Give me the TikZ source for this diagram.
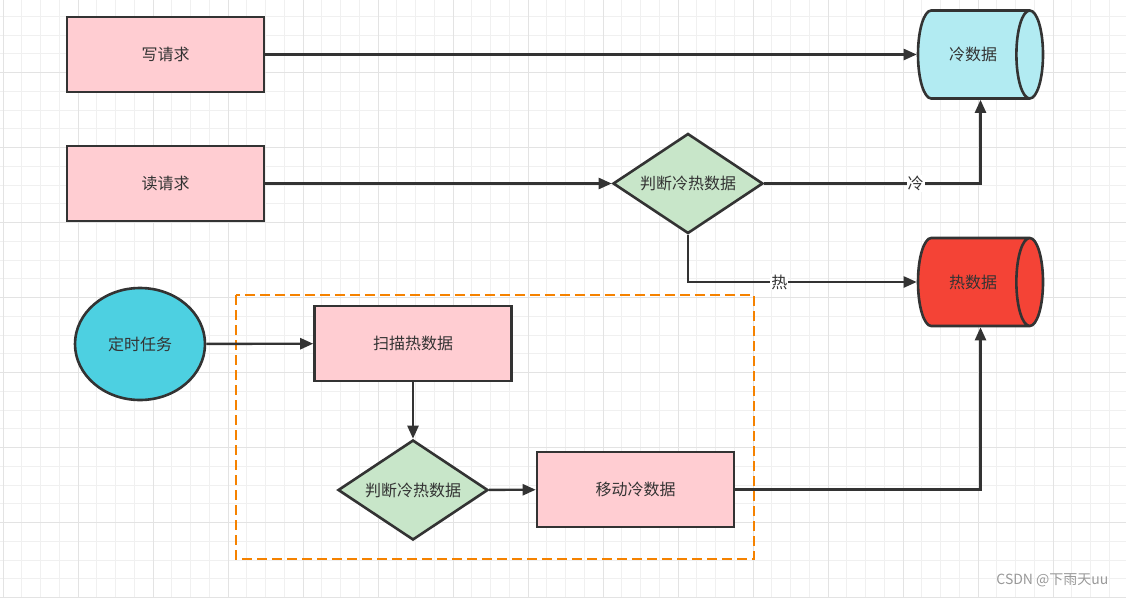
\documentclass[tikz,border=0pt]{standalone}
\usepackage{xcolor}
\usepackage{fontspec}
\newfontfamily\cjk{Noto Sans CJK SC}
\usetikzlibrary{arrows.meta,shapes.geometric}
\definecolor{pinkfill}{HTML}{FFCDD2}
\definecolor{coldfill}{HTML}{B2EBF2}
\definecolor{hotfill}{HTML}{F44336}
\definecolor{judgefill}{HTML}{C8E6C9}
\definecolor{taskfill}{HTML}{4DD0E1}
\definecolor{dashorange}{HTML}{F58200}
\definecolor{linegray}{HTML}{333333}
\definecolor{gridminor}{HTML}{F0F0F0}
\definecolor{gridmajor}{HTML}{E3E3E3}
\tikzset{
	label font/.style={font=\cjk\fontsize{16}{19}\selectfont, text=linegray},
	request/.style={
			draw=linegray, line width=2.6pt, fill=pinkfill, inner sep=0pt,
			minimum width=197pt, minimum height=75pt, label font
		},
	judge/.style={
			shape=diamond, draw=linegray, line width=2.6pt, fill=judgefill, inner sep=0pt,
			aspect=1.5, minimum width=150pt, minimum height=100pt, label font
		},
	store/.style={
			shape=cylinder, draw=linegray, line width=2.6pt, inner sep=0pt, aspect=1.8,
			minimum width=88pt, minimum height=125pt, anchor=shape center, label font
		},
	task/.style={
			shape=ellipse, draw=linegray, line width=2.6pt, fill=taskfill, inner sep=0pt,
			minimum width=130pt, minimum height=112pt, label font
		},
	flow/.style={draw=linegray, line width=2.4pt, -{Triangle[length=13pt,width=11pt]}},
	tag/.style={fill=white, inner sep=1pt, label font}
}

\begin{document}
\begin{tikzpicture}[x=1pt, y=-1pt]
	\fill[white] (0,0) rectangle (1126,597);
	\useasboundingbox (0,0) rectangle (1126,597);
	% grid
	\foreach \i in {0,...,60} {
			\draw[gridminor, line width=1pt] ({3+18.75*\i},0) -- ++(0,597);
		}
	\foreach \j in {0,...,32} {
			\draw[gridminor, line width=1pt] (0,{-2.3+18.75*\j}) -- ++(1126,0);
		}
	\foreach \i in {0,...,15} {
			\draw[gridmajor, line width=1pt] ({3+75*\i},0) -- ++(0,597);
		}
	\foreach \j in {0,...,8} {
			\draw[gridmajor, line width=1pt] (0,{-2.3+75*\j}) -- ++(1126,0);
		}

	\draw[dashorange, line width=2.5pt, dash pattern=on 10pt off 5pt] (236,295) rectangle (754,559);

	\node[request] (write) at (165.5,54.5) {写请求};
	\node[request] (read) at (165.5,183.5) {读请求};
	\node[store, fill=coldfill] (cold) at (980.5,54.5) {冷数据};
	\node[store, fill=hotfill] (hot) at (980.5,282) {热数据};
	\node[judge] (judgeread) at (688,183.5) {判断冷热数据};
	\node[task] (timer) at (140,344) {定时任务};
	\node[request] (scan) at (413,343.5) {扫描热数据};
	\node[judge] (judgescan) at (413,490) {判断冷热数据};
	\node[request] (move) at (635.5,489.5) {移动冷数据};
	\coordinate (coldin) at (cold.shape center |- cold.south);
	\coordinate (hotin) at (hot.shape center |- hot.south);

	\draw[flow] (write) -- (cold);
	\draw[flow] (read) -- (judgeread);
	\draw[flow] (judgeread) -| node[tag, pos=0.35] {冷} (coldin);
	\draw[flow] (judgeread) |- node[tag, pos=0.7] {热} (hot);
	\draw[flow] (timer) -- (scan);
	\draw[flow] (scan) -- (judgescan);
	\draw[flow] (judgescan) -- (move);
	\draw[flow] (move) -| (hotin);

	\node[font=\cjk\fontsize{14}{16}\selectfont, text=gray!80, anchor=east] (mark) at (1112,580) {CSDN @下雨天uu};
\end{tikzpicture}
\end{document}
